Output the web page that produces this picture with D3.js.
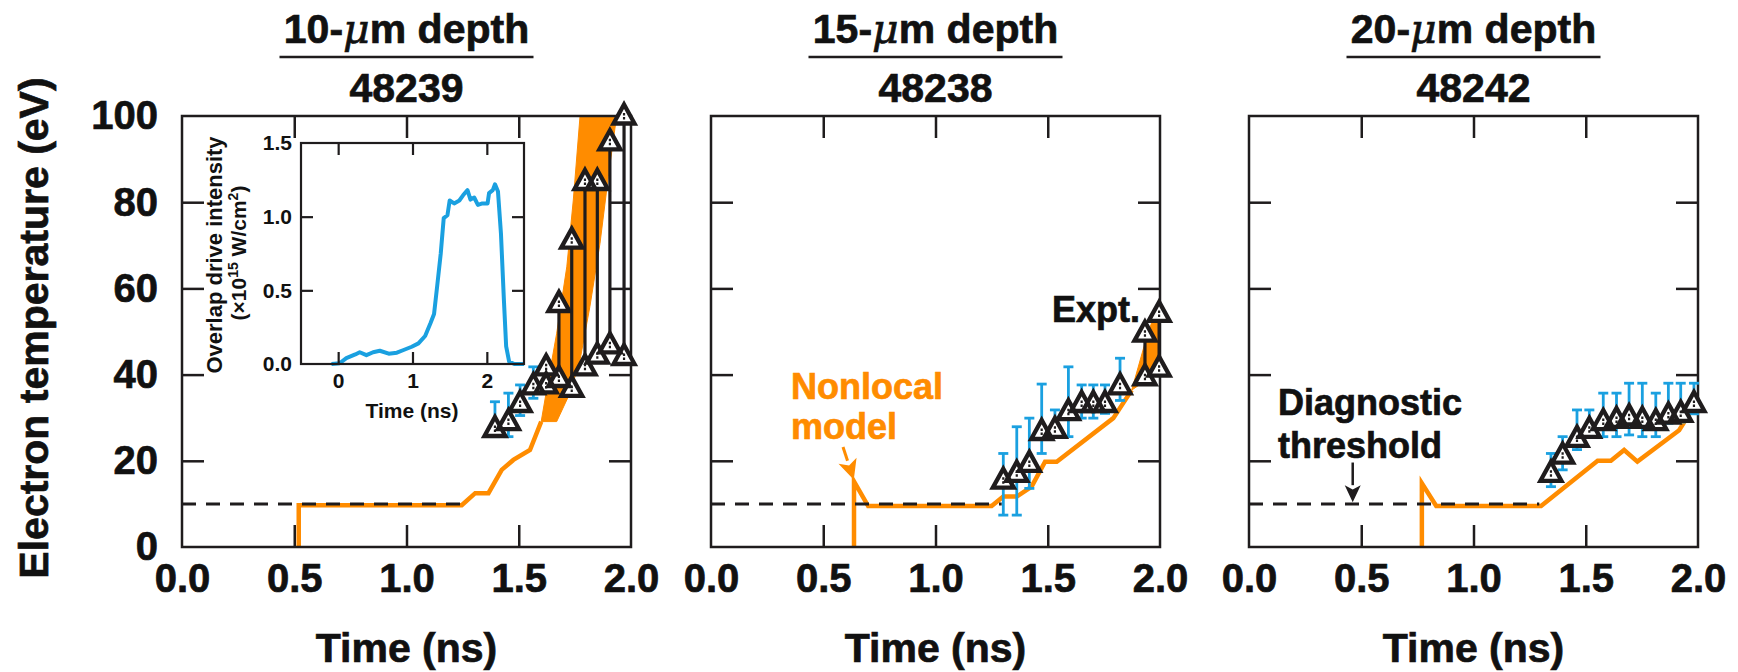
<!DOCTYPE html>
<html>
<head>
<meta charset="utf-8">
<script src="https://cdn.jsdelivr.net/npm/d3@7"></script>
<style>
  body { margin: 0; background: #fff; }
  svg text { font-family: "Liberation Sans", Arial, Helvetica, sans-serif; font-weight: bold; fill: #111; }
  svg text.big { stroke: #111; stroke-width: 0.7px; }
</style>
</head>
<body>
<svg id="chart" width="1738" height="672"></svg>
<script>
// ---------------- data ----------------
const depths = ['10', '15', '20'];
const shots = ['48239', '48238', '48242'];
const xTicks = [0, 0.5, 1.0, 1.5, 2.0];
const yTicks = [0, 20, 40, 60, 80, 100];
const thresholdV = 10;
const thresholdEnd = [1.246, 1.295, 1.293];

// nonlocal model (orange)
const p1ModelT = [0.52, 0.52, 1.246, 1.306, 1.365, 1.424, 1.476, 1.55, 1.60];
const p1ModelV = [0, 9.7, 9.7, 12.5, 12.5, 17.9, 20.2, 22.5, 29.1];
const p1BandUpper = [[1.60, 29.1], [1.624, 36.4], [1.669, 49.6], [1.714, 65.0], [1.743, 80.5], [1.773, 100]];
const p1BandLower = [[1.60, 29.1], [1.669, 29.1], [1.728, 35.7], [1.773, 43.4], [1.817, 55.8], [1.862, 70.5], [1.899, 85.9], [1.936, 100]];

const p2ModelT = [0.637, 0.637, 0.70, 1.25, 1.302, 1.362, 1.428, 1.488, 1.54, 1.792, 1.874];
const p2ModelV = [0, 15.2, 9.5, 9.5, 11.7, 11.7, 14.0, 19.8, 19.8, 29.9, 36.4];
const p2BandUpper = [[1.874, 36.4], [1.933, 47.3], [2.0, 58.0]];
const p2BandLower = [[1.874, 36.4], [1.933, 38.5], [2.0, 40.3]];

const p3ModelT = [0.77, 0.77, 0.834, 1.301, 1.553, 1.612, 1.671, 1.73, 1.916, 2.0];
const p3ModelV = [0, 14.8, 9.5, 9.5, 20.0, 20.0, 22.5, 19.8, 27.1, 34.1];

// experiment: single points with blue error bars
const p1ExptT = [1.394, 1.454, 1.506, 1.565];
const p1ExptV = [27.5, 29.1, 33.3, 37.4];
const p1ErrLo = [25.6, 25.6, 30.5, 34.5];
const p1ErrHi = [33.7, 35.7, 37.6, 41.8];

const p2ExptT = [1.302, 1.362, 1.418, 1.473, 1.532, 1.592, 1.651, 1.703, 1.755, 1.822];
const p2ExptV = [15.5, 17.1, 19.4, 26.8, 27.3, 31.4, 33.3, 33.3, 33.3, 37.4];
const p2ErrLo = [7.4, 7.4, 13.6, 21.7, 25.5, 25.6, 29.9, 29.9, 31.0, 34.0];
const p2ErrHi = [21.7, 27.9, 29.9, 37.8, 31.8, 41.8, 37.6, 37.6, 37.6, 43.8];

const p3ExptT = [1.345, 1.397, 1.461, 1.516, 1.578, 1.637, 1.693, 1.752, 1.812, 1.868, 1.923, 1.982];
const p3ExptV = [17.1, 21.3, 25.2, 27.3, 29.1, 29.6, 30.2, 29.6, 29.1, 30.6, 31.0, 33.3];
const p3ErrLo = [14.0, 17.9, 22.6, 26.4, 25.6, 25.6, 26.0, 25.6, 25.6, 28.7, 29.0, 30.9];
const p3ErrHi = [21.7, 25.6, 31.8, 31.8, 35.7, 35.7, 38.0, 38.0, 35.7, 38.0, 38.0, 38.0];

// experiment: lower / upper pairs joined by black lines
const p1PairT = [1.622, 1.679, 1.736, 1.795, 1.850, 1.906, 1.969];
const p1PairLo = [37.6, 39.1, 36.8, 41.8, 44.5, 46.9, 44.2];
const p1PairHi = [41.8, 56.5, 71.2, 84.8, 84.8, 94.0, 100];
const p2PairT = [1.933, 1.996];
const p2PairLo = [39.5, 41.5];
const p2PairHi = [49.6, 54.2];

// inset: overlap drive intensity (x1e15 W/cm2)
const insetT = [-0.09, 0.02, 0.11, 0.23, 0.29, 0.38, 0.47, 0.56, 0.68, 0.79, 0.88, 0.99, 1.08, 1.17, 1.24, 1.29, 1.33, 1.38, 1.42, 1.47,
  1.50, 1.56, 1.63, 1.68, 1.74, 1.78, 1.83, 1.88, 1.94, 2.01, 2.03, 2.08, 2.11, 2.15, 2.19, 2.23, 2.26, 2.30, 2.37, 2.5];
const insetI = [0, 0.005, 0.04, 0.065, 0.08, 0.06, 0.08, 0.09, 0.07, 0.077, 0.095, 0.117, 0.14, 0.19, 0.275, 0.34, 0.52, 0.75, 0.99, 1.01,
  1.11, 1.09, 1.11, 1.145, 1.18, 1.116, 1.13, 1.08, 1.09, 1.09, 1.16, 1.18, 1.22, 1.17, 0.885, 0.43, 0.12, 0.016, 0, 0];
const insetXTicks = [0, 1, 2];
const insetYTicks = [0, 0.5, 1.0, 1.5];

// ---------------- layout ----------------
const ORANGE = '#FF8C00';
const BLUE = '#1AA0E0';
const INK = '#1f1c1d';
const panelLeft = [182, 711, 1249];
const panelW = 449;
const plotTop = 116, plotBottom = 547;
const tickLen = 22;

const svg = d3.select('#chart');

const panels = [
  { model: [p1ModelT, p1ModelV], band: [p1BandUpper, p1BandLower], expt: [p1ExptT, p1ExptV, p1ErrLo, p1ErrHi], pairs: [p1PairT, p1PairLo, p1PairHi] },
  { model: [p2ModelT, p2ModelV], band: [p2BandUpper, p2BandLower], expt: [p2ExptT, p2ExptV, p2ErrLo, p2ErrHi], pairs: [p2PairT, p2PairLo, p2PairHi] },
  { model: [p3ModelT, p3ModelV], band: null, expt: [p3ExptT, p3ExptV, p3ErrLo, p3ErrHi], pairs: null }
];

function triPath(cx, cy) {
  return 'M' + cx + ',' + (cy - 11.5) + 'L' + (cx + 10.5) + ',' + (cy + 7.5) + 'L' + (cx - 10.5) + ',' + (cy + 7.5) + 'Z';
}

function arrow(g, x1, y1, x2, y2, color, len, wid, sw) {
  const a = Math.atan2(y2 - y1, x2 - x1);
  const bx = x2 - len * Math.cos(a), by = y2 - len * Math.sin(a);
  g.append('line').attr('x1', x1).attr('y1', y1).attr('x2', bx).attr('y2', by)
    .attr('stroke', color).attr('stroke-width', sw);
  const px = -Math.sin(a) * wid / 2, py = Math.cos(a) * wid / 2;
  g.append('path')
    .attr('d', 'M' + x2 + ',' + y2 + 'L' + (bx + px) + ',' + (by + py) + 'L' + (bx + len * 0.25 * Math.cos(a)) + ',' + (by + len * 0.25 * Math.sin(a)) + 'L' + (bx - px) + ',' + (by - py) + 'Z')
    .attr('fill', color);
}

panels.forEach((p, i) => {
  const left = panelLeft[i];
  const x = d3.scaleLinear().domain([0, 2]).range([left, left + panelW]);
  const y = d3.scaleLinear().domain([0, 100]).range([plotBottom, plotTop]);
  const g = svg.append('g').attr('class', 'panel-' + i);
  const cx = left + panelW / 2;

  // titles
  const t1 = g.append('text').attr('class', 'big').attr('x', cx).attr('y', 43).attr('text-anchor', 'middle').attr('font-size', 41);
  t1.append('tspan').text(depths[i] + '-');
  t1.append('tspan').attr('font-style', 'italic').attr('font-weight', 'normal').style('font-family', 'DejaVu Serif').text('\u03bc');
  t1.append('tspan').text('m depth');
  g.append('line').attr('x1', cx - 127).attr('x2', cx + 127).attr('y1', 57).attr('y2', 57)
    .attr('stroke', INK).attr('stroke-width', 2.5);
  g.append('text').attr('class', 'big').attr('x', cx).attr('y', 102).attr('text-anchor', 'middle').attr('font-size', 41).text(shots[i]);

  const clipId = 'clip' + i;
  svg.append('clipPath').attr('id', clipId).append('rect')
    .attr('x', left).attr('y', plotTop).attr('width', panelW).attr('height', plotBottom - plotTop);

  // ticks (inward, all four sides)
  const inner = [0.5, 1.0, 1.5];
  const innerY = [20, 40, 60, 80];
  g.append('g').attr('transform', 'translate(0,' + plotBottom + ')')
    .call(d3.axisBottom(x).tickValues(inner).tickSize(-tickLen).tickFormat(''));
  g.append('g').attr('transform', 'translate(0,' + plotTop + ')')
    .call(d3.axisTop(x).tickValues(inner).tickSize(-tickLen).tickFormat(''));
  g.append('g').attr('transform', 'translate(' + left + ',0)')
    .call(d3.axisLeft(y).tickValues(innerY).tickSize(-tickLen).tickFormat(''));
  g.append('g').attr('transform', 'translate(' + (left + panelW) + ',0)')
    .call(d3.axisRight(y).tickValues(innerY).tickSize(-tickLen).tickFormat(''));
  g.selectAll('.domain').remove();
  g.selectAll('.tick line').attr('stroke', INK).attr('stroke-width', 2.5);

  // tick labels
  const xl = g.append('g').attr('transform', 'translate(0,' + plotBottom + ')')
    .call(d3.axisBottom(x).tickValues(xTicks).tickSize(0).tickPadding(17).tickFormat(d3.format('.1f')));
  xl.select('.domain').remove();
  xl.selectAll('text').attr('class', 'big').attr('font-size', 40).attr('fill', '#111');
  if (i === 0) {
    const yl = g.append('g').attr('transform', 'translate(' + left + ',0)')
      .call(d3.axisLeft(y).tickValues(yTicks).tickSize(0).tickPadding(24));
    yl.select('.domain').remove();
    yl.selectAll('text').attr('class', 'big').attr('font-size', 40).attr('fill', '#111');
  }

  g.append('text').attr('class', 'big').attr('x', cx).attr('y', 662).attr('text-anchor', 'middle').attr('font-size', 41).text('Time (ns)');

  // model band + line
  const line = d3.line().x(d => x(d[0])).y(d => y(d[1]));
  const clipped = g.append('g').attr('clip-path', 'url(#' + clipId + ')');
  if (p.band) {
    const poly = p.band[0].concat(p.band[1].slice().reverse());
    clipped.append('path').attr('d', line(poly) + 'Z').attr('fill', ORANGE).attr('stroke', ORANGE).attr('stroke-width', 1);
  }
  const modelPts = p.model[0].map((t, k) => [t, p.model[1][k]]);
  clipped.append('path').attr('d', line(modelPts)).attr('fill', 'none')
    .attr('stroke', ORANGE).attr('stroke-width', 4.5).attr('stroke-linejoin', 'miter');

  // diagnostic threshold
  g.append('line').attr('x1', x(0)).attr('x2', x(thresholdEnd[i])).attr('y1', y(thresholdV)).attr('y2', y(thresholdV))
    .attr('stroke', INK).attr('stroke-width', 3).attr('stroke-dasharray', '14,10');

  // frame
  g.append('rect').attr('x', left).attr('y', plotTop).attr('width', panelW).attr('height', plotBottom - plotTop)
    .attr('fill', 'none').attr('stroke', INK).attr('stroke-width', 2.5);

  // experiment
  const [eT, eV, eLo, eHi] = p.expt;
  const eb = g.append('g');
  eT.forEach((t, k) => {
    const xx = x(t);
    eb.append('line').attr('x1', xx).attr('x2', xx).attr('y1', y(eLo[k])).attr('y2', y(eHi[k]))
      .attr('stroke', BLUE).attr('stroke-width', 2.8);
    [eLo[k], eHi[k]].forEach(v => {
      eb.append('line').attr('x1', xx - 5).attr('x2', xx + 5).attr('y1', y(v)).attr('y2', y(v))
        .attr('stroke', BLUE).attr('stroke-width', 2.8);
    });
  });
  let marks = eT.map((t, k) => [t, eV[k]]);
  if (p.pairs) {
    const [pT, pLo, pHi] = p.pairs;
    pT.forEach((t, k) => {
      g.append('line').attr('x1', x(t)).attr('x2', x(t)).attr('y1', y(pLo[k])).attr('y2', y(pHi[k]))
        .attr('stroke', INK).attr('stroke-width', 3.2);
      marks.push([t, pLo[k]], [t, pHi[k]]);
    });
  }
  const mg = g.append('g');
  mg.selectAll('path.fill').data(marks).enter().append('path').attr('class', 'fill')
    .attr('d', d => triPath(x(d[0]), y(d[1]))).attr('fill', '#fff');
  mg.selectAll('path.tri').data(marks).enter().append('path').attr('class', 'tri')
    .attr('d', d => triPath(x(d[0]), y(d[1]))).attr('fill', 'none')
    .attr('stroke', INK).attr('stroke-width', 4.3).attr('stroke-linejoin', 'miter');
  mg.selectAll('line.in').data(marks).enter().append('line').attr('class', 'in')
    .attr('x1', d => x(d[0])).attr('x2', d => x(d[0]))
    .attr('y1', d => y(d[1]) - 3).attr('y2', d => y(d[1]) + 5)
    .attr('stroke', INK).attr('stroke-width', 2.2).attr('stroke-dasharray', '2.5,1.5');

  // annotations
  if (i === 1) {
    g.append('text').attr('class', 'big').attr('x', x(1.519)).attr('y', y(52.2)).attr('font-size', 36).text('Expt.');
    const ng = g.append('text').attr('font-size', 36).style('fill', ORANGE).style('stroke', ORANGE).style('stroke-width', '0.7px');
    ng.append('tspan').attr('x', x(0.356)).attr('y', y(34.3)).text('Nonlocal');
    ng.append('tspan').attr('x', x(0.356)).attr('y', y(25.0)).text('model');
    arrow(g, x(0.588), y(23.2), x(0.636), y(15.6), ORANGE, 20, 19, 3);
  }
  if (i === 2) {
    const dg = g.append('text').attr('class', 'big').attr('font-size', 36);
    dg.append('tspan').attr('x', x(0.129)).attr('y', y(30.6)).text('Diagnostic');
    dg.append('tspan').attr('x', x(0.129)).attr('y', y(20.6)).text('threshold');
    arrow(g, x(0.462), y(19.6), x(0.462), y(10.4), INK, 17, 16, 2.5);
  }

  // inset in first panel
  if (i === 0) {
    const ix = d3.scaleLinear().domain([-0.5, 2.5]).range([301, 524]);
    const iy = d3.scaleLinear().domain([0, 1.5]).range([364, 143]);
    const ig = g.append('g').attr('class', 'inset');
    ig.append('rect').attr('x', 301).attr('y', 143).attr('width', 223).attr('height', 221).attr('fill', '#fff');
    svg.append('clipPath').attr('id', 'insetClip').append('rect')
      .attr('x', 301).attr('y', 141).attr('width', 223).attr('height', 225);
    ig.append('path').attr('clip-path', 'url(#insetClip)')
      .attr('d', d3.line().x(d => ix(d[0])).y(d => iy(d[1]))(insetT.map((t, k) => [t, insetI[k]])))
      .attr('fill', 'none').attr('stroke', BLUE).attr('stroke-width', 4).attr('stroke-linejoin', 'round');
    const it = 12;
    ig.append('g').attr('transform', 'translate(0,364)').call(d3.axisBottom(ix).tickValues(insetXTicks).tickSize(-it).tickFormat(''));
    ig.append('g').attr('transform', 'translate(0,143)').call(d3.axisTop(ix).tickValues(insetXTicks).tickSize(-it).tickFormat(''));
    ig.append('g').attr('transform', 'translate(301,0)').call(d3.axisLeft(iy).tickValues([0.5, 1.0]).tickSize(-it).tickFormat(''));
    ig.append('g').attr('transform', 'translate(524,0)').call(d3.axisRight(iy).tickValues([0.5, 1.0]).tickSize(-it).tickFormat(''));
    ig.selectAll('.domain').remove();
    ig.selectAll('.tick line').attr('stroke', INK).attr('stroke-width', 2.2);
    ig.append('rect').attr('x', 301).attr('y', 143).attr('width', 223).attr('height', 221)
      .attr('fill', 'none').attr('stroke', INK).attr('stroke-width', 2.2);

    const ixl = ig.append('g').attr('transform', 'translate(0,364)')
      .call(d3.axisBottom(ix).tickValues(insetXTicks).tickSize(0).tickPadding(9).tickFormat(d3.format('d')));
    ixl.select('.domain').remove();
    ixl.selectAll('text').attr('font-size', 21).attr('fill', '#111');
    const iyl = ig.append('g').attr('transform', 'translate(301,0)')
      .call(d3.axisLeft(iy).tickValues(insetYTicks).tickSize(0).tickPadding(9).tickFormat(d3.format('.1f')));
    iyl.select('.domain').remove();
    iyl.selectAll('text').attr('font-size', 21).attr('fill', '#111');

    ig.append('text').attr('x', 412).attr('y', 418).attr('text-anchor', 'middle').attr('font-size', 21).text('Time (ns)');
    ig.append('text').attr('transform', 'translate(222,255) rotate(-90)').attr('text-anchor', 'middle')
      .attr('font-size', 22).text('Overlap drive intensity');
    const l2 = ig.append('text').attr('transform', 'translate(246,253) rotate(-90)').attr('text-anchor', 'middle')
      .attr('font-size', 21);
    l2.append('tspan').text('(\u00d710');
    l2.append('tspan').attr('font-size', 14).attr('dy', -8).text('15');
    l2.append('tspan').attr('dy', 8).text(' W/cm');
    l2.append('tspan').attr('font-size', 14).attr('dy', -8).text('2');
    l2.append('tspan').attr('dy', 8).text(')');
  }
});

// y-axis title
svg.append('text').attr('class', 'big').attr('transform', 'translate(48,328) rotate(-90)').attr('text-anchor', 'middle')
  .attr('font-size', 41).text('Electron temperature (eV)');
</script>
</body>
</html>
